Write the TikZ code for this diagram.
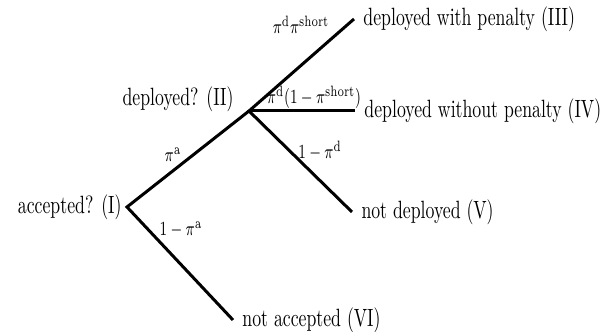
\documentclass[tikz,border=0pt]{standalone}
\usepackage{graphicx}
\usepackage{amsmath}
\usetikzlibrary{positioning}
\newcommand{\nar}[1]{\scalebox{0.71}[1]{#1}}

\begin{document}
\begin{tikzpicture}[x=0.4pt, y=-0.4pt,
  branch/.style={line width=1.2pt},
  leaf/.style={anchor=west, inner xsep=3.6pt, inner ysep=0pt},
  prob/.style={font=\footnotesize, inner sep=0pt}]
\useasboundingbox (0,0) rectangle (609,332);
% decision points
\node[anchor=east, inner xsep=2pt] (acc) at (127,207) {\nar{accepted? (I)}};
\coordinate (dep) at (249,111);
\node[anchor=east, inner xsep=2pt] (deplbl) at (239,99) {\nar{deployed? (II)}};

% outcomes
\node[leaf] (pen) at (354,19) {\nar{deployed with penalty (III)}};
\node[leaf] (nopen) at (355,111) {\nar{deployed without penalty (IV)}};
\node[leaf] (notdep) at (352,212) {\nar{not deployed (V)}};
\node[leaf] (notacc) at (233,320) {\nar{not accepted (VI)}};

% branches
\draw[branch] (dep) -- (acc.east) -- (notacc.west);
\draw[branch] (pen.west) -- (dep) -- (notdep.west);
\draw[branch] (dep) -- (nopen.west);

% probabilities
\node[prob] (pa) at (173,155) {\nar{$\pi^{\mathrm{a}}$}};
\node[prob] (npa) at (181,230) {\nar{$1-\pi^{\mathrm{a}}$}};
\node[prob] (pds) at (301,25) {\nar{$\pi^{\mathrm{d}}\pi^{\mathrm{short}}$}};
\node[prob] (pdns) at (314,97) {\nar{$\pi^{\mathrm{d}}(1-\pi^{\mathrm{short}})$}};
\node[prob] (npd) at (320,151) {\nar{$1-\pi^{\mathrm{d}}$}};
\end{tikzpicture}
\end{document}
